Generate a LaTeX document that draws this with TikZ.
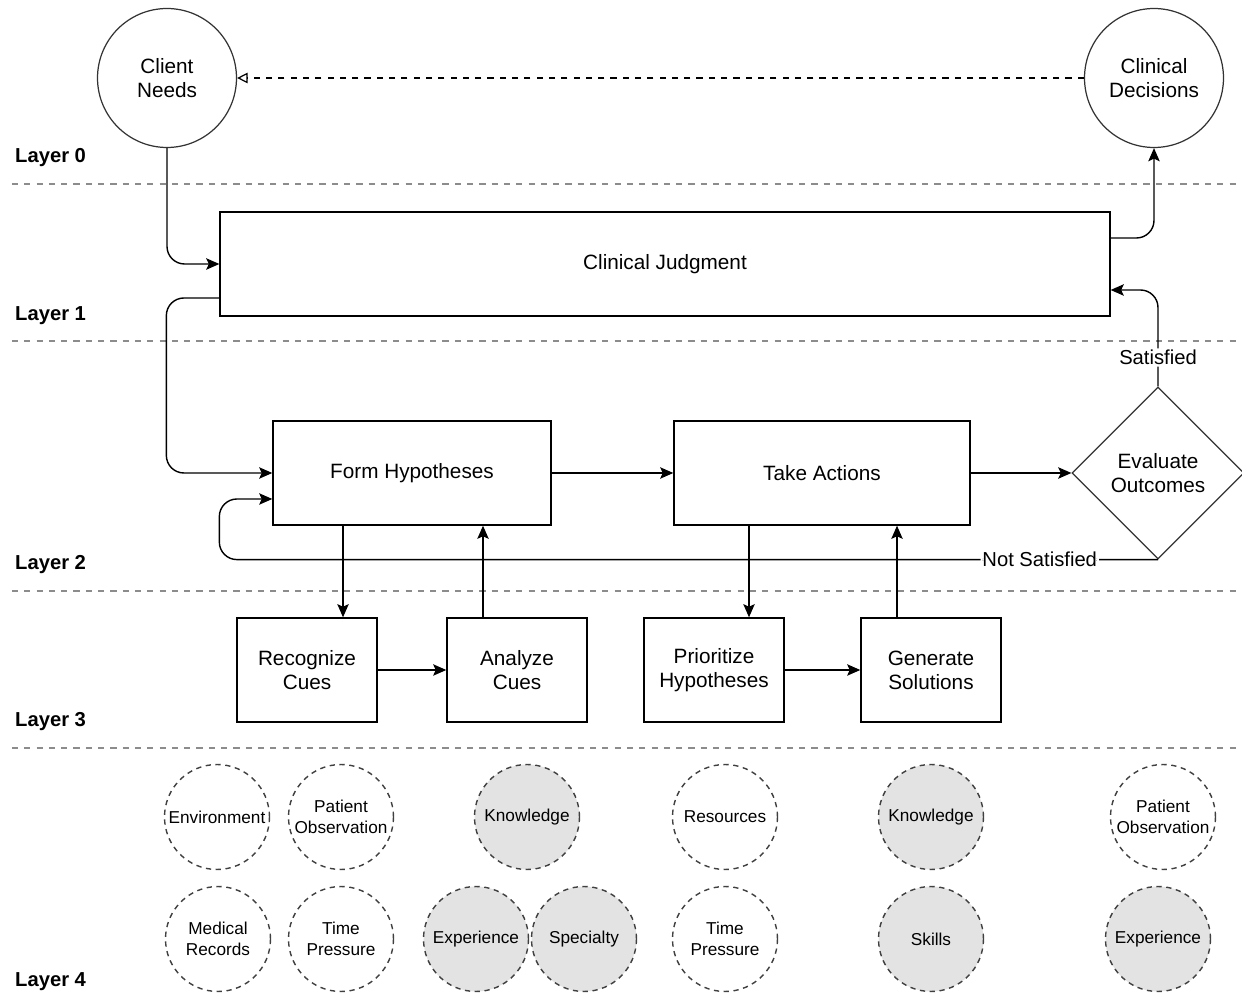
\documentclass[tikz,border=0pt]{standalone}
\usepackage{fontspec}
\setmainfont{Liberation Sans}
\usetikzlibrary{shapes.geometric,arrows.meta,positioning}

\begin{document}
\begin{tikzpicture}[
    x=0.02cm, y=-0.02cm,
    outcome/.style={
        circle,
        draw=black!80,
        line width=0.7pt,
        minimum size=2.78cm,
        inner sep=0pt,
        font=\fontsize{11.8}{13.6}\selectfont,
        align=center
    },
    stage/.style={
        rectangle,
        draw=black,
        line width=0.8pt,
        minimum height=2.08cm,
        font=\fontsize{11.8}{13.6}\selectfont,
        align=center
    },
    factor/.style={
        circle,
        dashed,
        dash pattern=on 3pt off 2.6pt,
        draw=black!75,
        line width=0.8pt,
        minimum size=2.1cm,
        inner sep=0pt,
        font=\fontsize{9.8}{12}\selectfont,
        align=center
    },
    known/.style={factor, fill=black!11},
    layer/.style={anchor=west, font=\bfseries\fontsize{11.5}{13}\selectfont},
    divider/.style={draw=black!45, line width=0.8pt, dash pattern=on 3.5pt off 3.5pt},
    flow/.style={line width=0.8pt, rounded corners=10pt,
        -{Stealth[length=7.5pt,width=6.5pt,inset=1.5pt]}},
    verdict/.style={fill=white, inner sep=1pt, font=\fontsize{11.5}{13}\selectfont}
]
\useasboundingbox (0,0) rectangle (1242,1006);

% Layer labels and dividers
\node[layer] (l0) at (9,158) {Layer 0};
\node[layer] (l1) at (9,316) {Layer 1};
\node[layer] (l2) at (9,565) {Layer 2};
\node[layer] (l3) at (9,722) {Layer 3};
\node[layer] (l4) at (9,982) {Layer 4};
\foreach \y in {184,341,591,748}
    \draw[divider] (12,\y) -- (1242,\y);

% Layer 0
\node[outcome] (needs) at (167,78) {Client\\Needs};
\node[outcome] (decisions) at (1154,78) {Clinical\\Decisions};

% Layer 1
\node[stage, minimum width=17.8cm] (judgment) at (665,264) {Clinical Judgment};

% Layer 2
\node[stage, minimum width=5.56cm] (hypotheses) at (412,473) {Form Hypotheses};
\node[stage, minimum width=5.92cm] (actions) at (822,473) {Take Actions};
\node[diamond, draw=black!80, line width=0.7pt, minimum width=3.44cm, minimum height=3.44cm,
    inner sep=0pt, aspect=1, align=center, font=\fontsize{11.8}{13.6}\selectfont]
    (evaluate) at (1158,473) {Evaluate\\Outcomes};

% Layer 3
\node[stage, minimum width=2.8cm] (recognize) at (307,670) {Recognize\\Cues};
\node[stage, minimum width=2.8cm] (analyze) at (517,670) {Analyze\\Cues};
\node[stage, minimum width=2.8cm] (prioritize) at (714,670) {Prioritize\\Hypotheses};
\node[stage, minimum width=2.8cm] (generate) at (931,670) {Generate\\Solutions};

% Layer 4
\node[factor] (environment) at (217,817) {Environment};
\node[factor] (observation1) at (341,817) {Patient\\Observation};
\node[known] (knowledge1) at (527,817) {Knowledge};
\node[factor] (resources) at (725,817) {Resources};
\node[known] (knowledge2) at (931,817) {Knowledge};
\node[factor] (observation2) at (1163,817) {Patient\\Observation};
\node[factor] (records) at (218,939) {Medical\\Records};
\node[factor] (pressure1) at (341,939) {Time\\Pressure};
\node[known] (experience1) at (476,939) {Experience};
\node[known] (specialty) at (584,939) {Specialty};
\node[factor] (pressure2) at (725,939) {Time\\Pressure};
\node[known] (skills) at (931,939) {Skills};
\node[known] (experience2) at (1158,939) {Experience};

% Connectors
\draw[line width=0.7pt, dash pattern=on 3.5pt off 3.5pt,
    -{Triangle[open,length=6pt,width=6pt]}] (decisions) -- (needs);
\draw[flow] (needs.south) |- (judgment.west);
\draw[flow] ([yshift=0.52cm]judgment.east) -| (decisions.south);
\draw[flow] ([yshift=-0.68cm]judgment.west) -| ([xshift=-2.12cm]hypotheses.west) -- (hypotheses.west);
\draw[flow] (hypotheses) -- (actions);
\draw[flow] (actions) -- (evaluate);
\draw[flow] (evaluate.north) |- node[verdict, pos=0.15] {Satisfied} ([yshift=-0.52cm]judgment.east);
\draw[flow] (evaluate.south) -| node[verdict, pos=0.063] {Not Satisfied}
    ([xshift=-1.06cm,yshift=-0.52cm]hypotheses.west) -- ([yshift=-0.52cm]hypotheses.west);
\draw[flow] ([xshift=-1.38cm]hypotheses.south) -- ([xshift=-1.38cm]hypotheses.south |- recognize.north);
\draw[flow] ([xshift=-0.68cm]analyze.north) -- ([xshift=-0.68cm]analyze.north |- hypotheses.south);
\draw[flow] (recognize) -- (analyze);
\draw[flow] ([xshift=-1.46cm]actions.south) -- ([xshift=-1.46cm]actions.south |- prioritize.north);
\draw[flow] ([xshift=-0.68cm]generate.north) -- ([xshift=-0.68cm]generate.north |- actions.south);
\draw[flow] (prioritize) -- (generate);

\end{tikzpicture}
\end{document}
